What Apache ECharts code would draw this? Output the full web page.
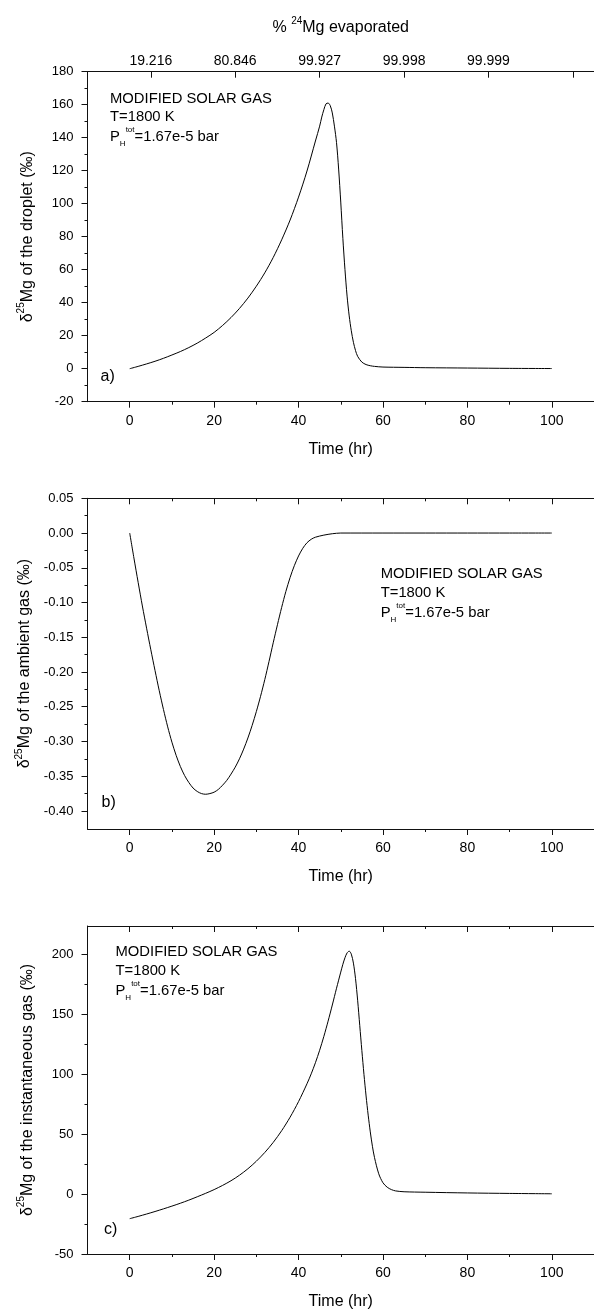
<!DOCTYPE html>
<html>
<head>
<meta charset="utf-8">
<script src="https://cdn.jsdelivr.net/npm/echarts@6/dist/echarts.min.js"></script>
<style>
  html, body { margin: 0; padding: 0; background: #fff; }
  #chart { width: 594px; height: 1311px; }
</style>
</head>
<body>
<div id="chart"></div>
<script>
// a) delta25Mg of the droplet
const timeA = [0, 2, 4, 6, 8, 10, 12, 14, 16, 18, 20, 22, 24, 26, 28, 30, 32, 34, 36, 38, 40, 42, 44, 45, 45.5,
  46, 46.5, 47, 47.5, 48, 48.5, 49, 49.5, 50, 50.5, 51, 51.5, 52, 52.5, 53, 53.5, 54, 55, 56, 57, 58, 60, 65, 70, 80, 90, 100];
const droplet = [0, 1.4, 2.9, 4.5, 6.3, 8.3, 10.4, 12.8, 15.5, 18.6, 22, 26.2, 31, 36.5, 42.8, 50, 58.1, 67.4, 78.1, 90.1, 104, 119.8, 138, 147, 152.5,
  157, 160.5, 161, 159.5, 155, 147, 137, 121, 101, 79, 60, 44, 32, 23, 16, 11, 7.5, 4, 2.5, 1.8, 1.4, 1.0, 0.8, 0.6, 0.4, 0.2, 0.1];

// b) delta25Mg of the ambient gas
const timeB = [0, 1, 2, 3, 4, 5, 6, 7, 8, 9, 10, 11, 12, 13, 14, 15, 16, 17, 18, 19, 20, 21, 22, 23, 24, 25, 26, 27, 28, 29,
  30, 31, 32, 33, 34, 35, 36, 37, 38, 39, 40, 41, 42, 43, 44, 46, 48, 50, 60, 70, 80, 90, 100];
const ambient = [0, -0.036, -0.071, -0.105, -0.137, -0.168, -0.198, -0.227, -0.254, -0.279, -0.301, -0.320, -0.336, -0.349,
  -0.359, -0.367, -0.372, -0.375, -0.376, -0.375, -0.373, -0.369, -0.363, -0.356, -0.347, -0.337, -0.325, -0.311, -0.295,
  -0.277, -0.257, -0.235, -0.211, -0.185, -0.158, -0.132, -0.107, -0.084, -0.064, -0.047, -0.033, -0.022, -0.014, -0.009,
  -0.006, -0.003, -0.001, 0, 0, 0, 0, 0, 0];

// c) delta25Mg of the instantaneous gas
const timeC = [0, 2, 4, 6, 8, 10, 12, 14, 16, 18, 20, 22, 24, 26, 28, 30, 32, 34, 36, 38, 40, 42, 43, 44, 45, 46, 47, 48, 49,
  50, 50.5, 51, 51.5, 52, 52.5, 53, 53.5, 54, 54.5, 55, 55.5, 56, 56.5, 57, 57.5, 58, 59, 60, 61, 62, 63, 65, 70, 80, 90, 100];
const instant = [-20.5, -18.6, -16.6, -14.5, -12.3, -10, -7.6, -5, -2.2, 0.7, 3.8, 7.3, 11.2, 15.8, 21.2, 27.5, 34.8, 43.2, 53, 64.3,
  77.3, 92.2, 100.5, 109.8, 120.2, 131.8, 144.5, 158, 172, 185.5, 192, 197.5, 201.5, 203, 200.5, 193, 180, 162, 141, 120, 100,
  82, 66, 52, 40, 30.5, 17, 9.5, 5.8, 3.8, 2.7, 2, 1.6, 1, 0.6, 0.3];

// tick labels
const timeTicks = [0, 20, 40, 60, 80, 100];
const timeMinor = [10, 30, 50, 70, 90];
const evapPos = [5, 25, 45, 65, 85];
const evapTickPos = [5, 25, 45, 65, 85, 105];
const evapLabels = ['19.216', '80.846', '99.927', '99.998', '99.999'];

const yTicksA = [-20, 0, 20, 40, 60, 80, 100, 120, 140, 160, 180];
const yMinorA = [-10, 10, 30, 50, 70, 90, 110, 130, 150, 170];
const yTicksB = [0.05, 0, -0.05, -0.1, -0.15, -0.2, -0.25, -0.3, -0.35, -0.4];
const yMinorB = [0.025, -0.025, -0.075, -0.125, -0.175, -0.225, -0.275, -0.325, -0.375];
const yTicksC = [-50, 0, 50, 100, 150, 200];
const yMinorC = [-25, 25, 75, 125, 175];

const FONT = 'Liberation Sans, Arial, sans-serif';
const BLACK = '#000';
const line = { color: '#111', width: 1 };

const grids = [
  { left: 87.5, top: 71.7, width: 513, height: 330 },
  { left: 87.5, top: 498.3, width: 513, height: 330.7 },
  { left: 87.5, top: 926, width: 513, height: 328.3 }
];

const supRich = {
  n: { fontSize: 16, lineHeight: 22, fontFamily: FONT, color: BLACK },
  s: { fontSize: 10, lineHeight: 10, verticalAlign: 'top', fontFamily: FONT, color: BLACK }
};

const xAxes = [];
grids.forEach((g, gi) => {
  // bottom, major ticks and labels
  xAxes.push({
    gridIndex: gi, type: 'value', position: 'bottom', min: -10, max: 110,
    axisLine: { show: true, onZero: false, lineStyle: line },
    axisTick: { show: true, inside: false, length: 6, customValues: timeTicks, lineStyle: line },
    axisLabel: { customValues: timeTicks, margin: 12, fontSize: 14, color: BLACK, fontFamily: FONT },
    splitLine: { show: false },
    name: 'Time (hr)', nameLocation: 'middle', nameGap: 40,
    nameTextStyle: { fontSize: 16, color: BLACK, fontFamily: FONT }
  });
  // bottom, minor ticks
  xAxes.push({
    gridIndex: gi, type: 'value', position: 'bottom', min: -10, max: 110,
    axisLine: { show: false, onZero: false },
    axisTick: { show: true, inside: false, length: 3, customValues: timeMinor, lineStyle: line },
    axisLabel: { show: false }, splitLine: { show: false }
  });
  if (gi === 0) {
    xAxes.push({
      gridIndex: gi, type: 'value', position: 'top', min: -10, max: 110,
      axisLine: { show: true, onZero: false, lineStyle: line },
      axisTick: { show: true, inside: true, length: 6, customValues: evapTickPos, lineStyle: line },
      axisLabel: {
        customValues: evapPos, margin: 4, fontSize: 14, color: BLACK, fontFamily: FONT,
        formatter: v => evapLabels[evapPos.indexOf(v)]
      },
      splitLine: { show: false },
      name: '{n|% }{s|24}{n|Mg evaporated}', nameLocation: 'middle', nameGap: 33,
      nameTextStyle: { rich: supRich }
    });
    xAxes.push({
      gridIndex: gi, type: 'value', position: 'top', min: -10, max: 110, show: false
    });
  } else {
    xAxes.push({
      gridIndex: gi, type: 'value', position: 'top', min: -10, max: 110,
      axisLine: { show: true, onZero: false, lineStyle: line },
      axisTick: { show: true, inside: true, length: 6, customValues: timeTicks, lineStyle: line },
      axisLabel: { show: false }, splitLine: { show: false }
    });
    xAxes.push({
      gridIndex: gi, type: 'value', position: 'top', min: -10, max: 110,
      axisLine: { show: false, onZero: false },
      axisTick: { show: true, inside: true, length: 3, customValues: timeMinor, lineStyle: line },
      axisLabel: { show: false }, splitLine: { show: false }
    });
  }
});

const ySpecs = [
  { min: -20, max: 180, ticks: yTicksA, minor: yMinorA, fmt: v => String(v), title: 'Mg of the droplet (‰)' },
  { min: -0.426, max: 0.05, ticks: yTicksB, minor: yMinorB, fmt: v => v.toFixed(2), title: 'Mg of the ambient gas (‰)' },
  { min: -50, max: 224, ticks: yTicksC, minor: yMinorC, fmt: v => String(v), title: 'Mg of the instantaneous gas (‰)' }
];

const yAxes = [];
ySpecs.forEach((s, gi) => {
  yAxes.push({
    gridIndex: gi, type: 'value', position: 'left', min: s.min, max: s.max,
    axisLine: { show: true, onZero: false, lineStyle: line },
    axisTick: { show: true, inside: false, length: 6, customValues: s.ticks, lineStyle: line },
    axisLabel: { customValues: s.ticks, formatter: s.fmt, margin: 14, fontSize: 13, color: BLACK, fontFamily: FONT },
    splitLine: { show: false },
    name: '{n|δ}{s|25}{n|' + s.title + '}', nameLocation: 'middle', nameGap: 49,
    nameTextStyle: { rich: supRich }
  });
  yAxes.push({
    gridIndex: gi, type: 'value', position: 'left', min: s.min, max: s.max,
    axisLine: { show: false, onZero: false },
    axisTick: { show: true, inside: false, length: 3, customValues: s.minor, lineStyle: line },
    axisLabel: { show: false }, splitLine: { show: false }
  });
});

const curves = [[timeA, droplet], [timeB, ambient], [timeC, instant]];
const series = curves.map((c, gi) => ({
  type: 'line',
  xAxisIndex: gi * 4,
  yAxisIndex: gi * 2,
  data: c[0].map((t, i) => [t, c[1][i]]),
  showSymbol: false,
  smooth: 0.3,
  lineStyle: { color: '#000', width: 1 }
}));

const noteRich = {
  m: { fontSize: 14.8, lineHeight: 22, fontFamily: FONT, color: BLACK },
  h: { fontSize: 8, lineHeight: 8, verticalAlign: 'bottom', fontFamily: FONT, color: BLACK },
  t: { fontSize: 8, lineHeight: 8, verticalAlign: 'top', fontFamily: FONT, color: BLACK }
};
function note(x, y1, y2, y3) {
  const base = { fill: BLACK, fontSize: 14.8, fontFamily: FONT, align: 'left', verticalAlign: 'middle' };
  return [
    { type: 'text', x: x, y: y1, style: Object.assign({ text: 'MODIFIED SOLAR GAS' }, base) },
    { type: 'text', x: x, y: y2, style: Object.assign({ text: 'T=1800 K' }, base) },
    { type: 'text', x: x, y: y3, style: Object.assign({ text: '{m|P}{h|H}{t|tot}{m|=1.67e-5 bar}', rich: noteRich }, base) }
  ];
}
function panelTag(label, x, y) {
  return { type: 'text', x: x, y: y, style: { text: label, fill: BLACK, fontSize: 16, fontFamily: FONT, align: 'left', verticalAlign: 'middle' } };
}

const graphic = [].concat(
  note(110, 98.5, 117, 137),
  note(380.7, 574.3, 592.7, 612.5),
  note(115.5, 952.3, 971, 991.2),
  [panelTag('a)', 100.5, 377), panelTag('b)', 101.5, 802.3), panelTag('c)', 104, 1229.3)]
);

const chart = echarts.init(document.getElementById('chart'), null, { renderer: 'canvas' });
chart.setOption({
  animation: false,
  backgroundColor: '#fff',
  textStyle: { fontFamily: FONT },
  grid: grids,
  xAxis: xAxes,
  yAxis: yAxes,
  series: series,
  graphic: graphic
});
window.addEventListener('resize', function () {
  chart.resize();
});
</script>
</body>
</html>
